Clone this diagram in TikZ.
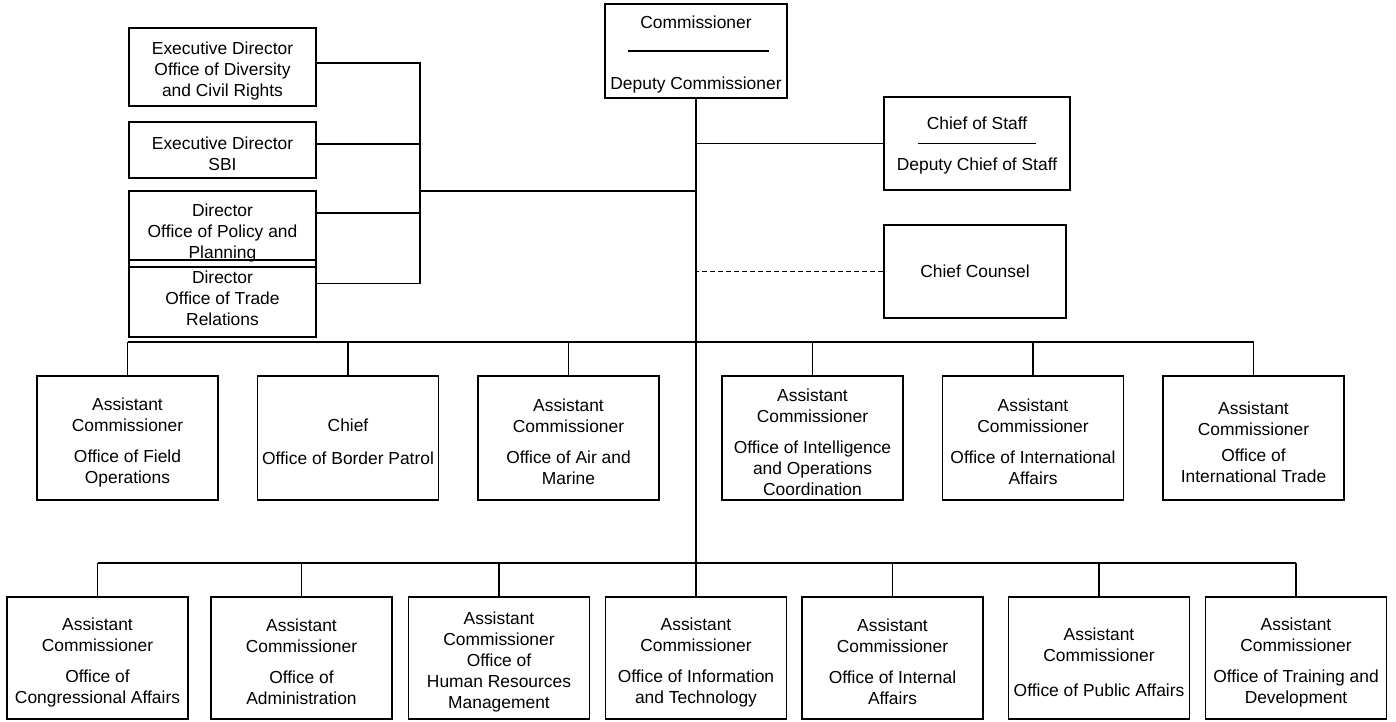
\documentclass[tikz,border=0pt]{standalone}
\usepackage{fontspec}
\setmainfont{Liberation Sans}
\newcommand{\lift}{\rule{0pt}{21pt}}
\begin{document}
\begin{tikzpicture}[x=1pt, y=-1pt, line width=1.1pt,
    every node/.style={font=\fontsize{17.4}{21}\selectfont, align=center},
    box/.style={draw, inner xsep=2pt},
    side/.style={box, minimum width=187},
    unit/.style={box, minimum width=181, minimum height=124},
    low/.style={box, minimum width=181, minimum height=122}]
            \useasboundingbox (0,0) rectangle (1396,721);

            % Vertice
            \node (Comm) [box, minimum width=182, minimum height=94] at (696,51) {};
            \node (CommA) at (696,22) {Commissioner};
            \node (CommB) at (696,85) {Deputy Commissioner};
            \draw (628,51) -- (769,51);

            \node (CoS) [box, minimum width=186, minimum height=93] at (977,143.5) {};
            \node (CoSA) at (977,123) {Chief of Staff};
            \node (CoSB) at (977,166) {Deputy Chief of Staff};
            \draw (918,143.5) -- (1036,143.5);

            \node (CC) [box, minimum width=182, minimum height=93] at (975,271.5) {Chief Counsel};

            % Uffici a sinistra
            \node (ODCR) [side, minimum height=78] at (222.5,67) {\lift Executive Director\\Office of Diversity\\and Civil Rights};
            \node (SBI) [side, minimum height=56] at (222.5,150) {\lift Executive Director\\SBI};
            \node (OPP) [side, minimum height=76] at (222.5,229) {\lift Director\\Office of Policy and\\Planning};
            \node (OTR) [side, minimum height=77] at (222.5,298.5) {Director\\Office of Trade\\Relations};

            % Prima fila
            \node (R1a) [unit] at (127.5,438) {\lift Assistant\\Commissioner\\[10pt]Office of Field\\Operations};
            \node (R1b) [unit] at (348,438) {\lift Chief\\[12pt]Office of Border Patrol};
            \node (R1c) [unit] at (568.5,438) {\lift Assistant\\Commissioner\\[10pt]Office of Air and\\Marine};
            \node (R1d) [unit] at (812.5,438) {\lift Assistant\\Commissioner\\[10pt]Office of Intelligence\\and Operations\\Coordination};
            \node (R1e) [unit] at (1033,438) {\lift Assistant\\Commissioner\\[10pt]Office of International\\Affairs};
            \node (R1f) [unit] at (1253.5,438) {\lift Assistant\\Commissioner\\[5pt]Office of\\International Trade};

            % Seconda fila
            \node (R2a) [low] at (97.5,658) {\lift Assistant\\Commissioner\\[10pt]Office of\\Congressional Affairs};
            \node (R2b) [low] at (301.5,658) {\lift Assistant\\Commissioner\\[10pt]Office of\\Administration};
            \node (R2c) [low] at (499,658) {\lift Assistant\\Commissioner\\Office of\\Human Resources\\Management};
            \node (R2d) [low] at (696,658) {\lift Assistant\\Commissioner\\[10pt]Office of Information\\and Technology};
            \node (R2e) [low] at (892.5,658) {\lift Assistant\\Commissioner\\[10pt]Office of Internal\\Affairs};
            \node (R2f) [low] at (1099,658) {\lift Assistant\\Commissioner\\[14pt]Office of Public Affairs};
            \node (R2g) [low] at (1296,658) {\lift Assistant\\Commissioner\\[10pt]Office of Training and\\Development};

            % Collegamenti
            \coordinate (LB) at (420,191);
            \coordinate (B1) at (696,342);
            \coordinate (B2) at (696,563);
            \draw (Comm.south) -- (R2d.north);
            \draw ([yshift=4pt]ODCR.east) -| (LB);
            \draw ([yshift=6pt]SBI.east) -| (LB);
            \draw ([yshift=16pt]OPP.east) -| (LB);
            \draw ([yshift=15pt]OTR.east) -| (LB);
            \draw (LB) -- (LB -| Comm.south);
            \draw (CoS.west) -- (CoS.west -| Comm.south);
            \draw[dash pattern=on 5pt off 3pt] (CC.west) -- (CC.west -| Comm.south);

            \draw (R1a.north |- B1) -- (R1f.north |- B1);
            \foreach \n in {R1a,R1b,R1c,R1d,R1e,R1f}
                \draw (\n.north) -- (\n.north |- B1);
            \draw (R2a.north |- B2) -- (R2g.north |- B2);
            \foreach \n in {R2a,R2b,R2c,R2d,R2e,R2f,R2g}
                \draw (\n.north) -- (\n.north |- B2);
        \end{tikzpicture}
\end{document}
